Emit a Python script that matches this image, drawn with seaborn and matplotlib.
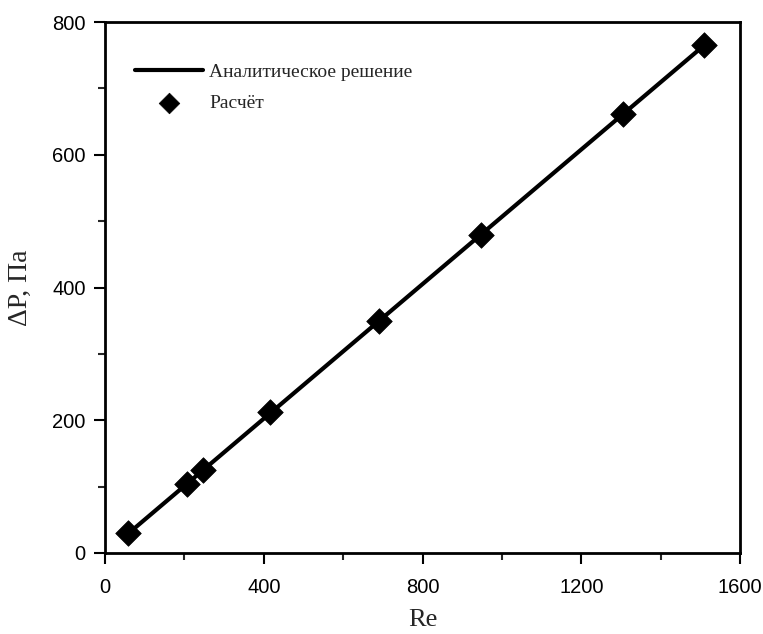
import matplotlib
matplotlib.use("Agg")
import matplotlib.pyplot as plt
import seaborn as sns
import pandas as pd
from matplotlib.ticker import MultipleLocator

re_calc = [58, 207, 247, 416, 690, 948, 1305, 1510]
dp_calc = [30, 104, 125, 212, 350, 479, 661, 765]
re_line = [58, 1510]
dp_line = [29, 765]

sns.set_theme(style="white")
plt.rcParams["font.family"] = ["Liberation Sans", "DejaVu Sans"]

fig = plt.figure(figsize=(7.63, 6.34), dpi=100)
ax = fig.add_axes([105/763, 1-553/634, 635/763, 531/634])

df_line = pd.DataFrame({"Re": re_line, "dP": dp_line})
df_calc = pd.DataFrame({"Re": re_calc, "dP": dp_calc})

sns.lineplot(data=df_line, x="Re", y="dP", ax=ax, color="black", linewidth=3,
             label="Аналитическое решение")
sns.scatterplot(data=df_calc, x="Re", y="dP", ax=ax, color="black", marker="D",
                s=170, edgecolor="black", linewidth=0.5, label="Расчёт", zorder=5)

ax.set_xlim(0, 1600)
ax.set_ylim(0, 800)
ax.xaxis.set_major_locator(MultipleLocator(400))
ax.xaxis.set_minor_locator(MultipleLocator(200))
ax.yaxis.set_major_locator(MultipleLocator(200))
ax.yaxis.set_minor_locator(MultipleLocator(100))
ax.tick_params(axis="both", which="major", direction="out", length=8, width=1.5,
               bottom=True, left=True, top=False, right=False, labelsize=14.5, colors="black")
ax.tick_params(axis="x", which="major", pad=10)
ax.tick_params(axis="y", which="major", pad=6)
ax.tick_params(axis="both", which="minor", direction="out", length=5, width=1.5,
               bottom=True, left=True, top=False, right=False)
for s in ax.spines.values():
    s.set_linewidth(2)
    s.set_color("black")

serif = ["Liberation Serif", "DejaVu Serif"]
ax.set_xlabel("Re", fontsize=19, family=serif, labelpad=9)
ax.set_ylabel("ΔP, Па", fontsize=20, family=serif, labelpad=14)

leg = ax.legend(loc="upper left", bbox_to_anchor=(0.02, 0.955), frameon=False,
                prop={"family": serif, "size": 14}, handlelength=3.5, handletextpad=0.3,
                labelspacing=0.7)
for h in leg.legend_handles:
    if hasattr(h, "set_sizes"):
        h.set_sizes([110])

fig.savefig("out.png", dpi=100)
